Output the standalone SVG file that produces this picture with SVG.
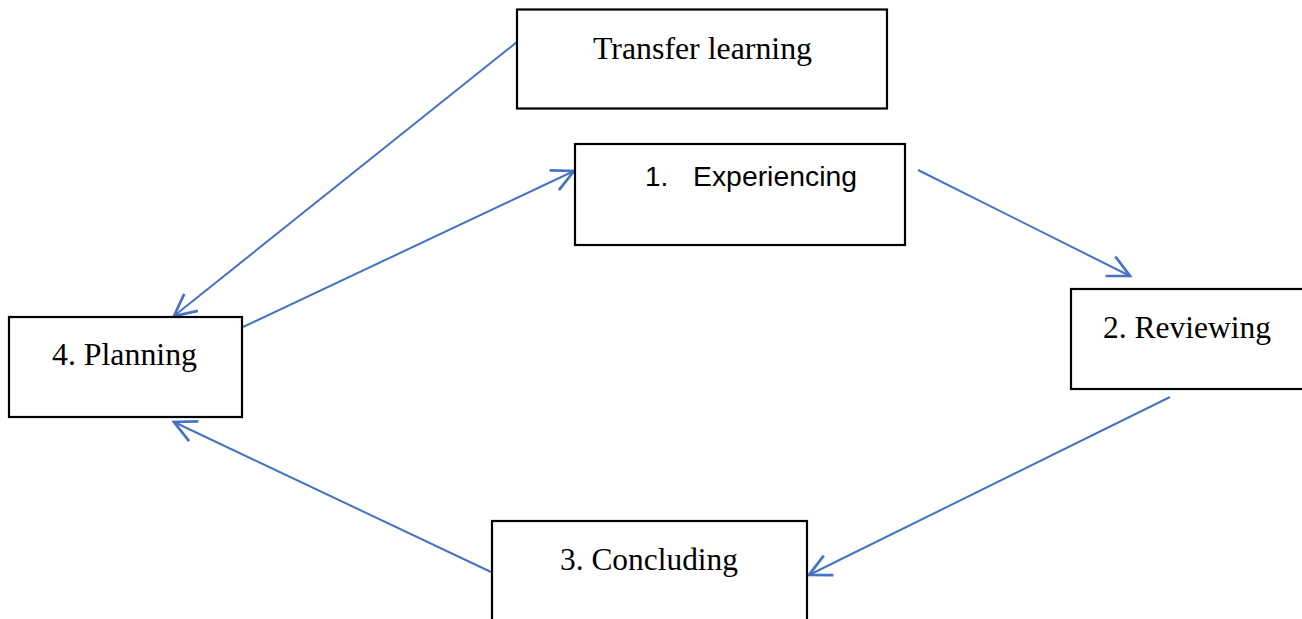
<svg xmlns="http://www.w3.org/2000/svg" width="1302" height="619" viewBox="0 0 1302 619">
<style>
.box{fill:#fff;stroke:#000;stroke-width:2.2}
.t{font-family:"Liberation Serif","Times New Roman",serif;font-size:32px;fill:#000}
.s{font-family:"Liberation Sans",Arial,sans-serif;font-size:28px;fill:#000}
.c{fill:none;stroke:#4472C4;stroke-width:2;marker-end:url(#a)}
</style>
<defs>
<marker id="a" markerUnits="userSpaceOnUse" markerWidth="30" markerHeight="30" viewBox="-20 -10 22 20" refX="0" refY="0" orient="auto">
<path d="M-16,-8 L0,0 L-16,8" fill="none" stroke="#4472C4" stroke-width="2"/>
</marker>
</defs>
<g id="connectors">
<line class="c" x1="517" y1="42" x2="174" y2="316"/>
<line class="c" x1="243" y1="327" x2="574" y2="171"/>
<line class="c" x1="918" y1="170" x2="1130" y2="276"/>
<line class="c" x1="1170" y1="397" x2="809" y2="575"/>
<line class="c" x1="491" y1="572" x2="174" y2="422"/>
</g>
<g id="transfer">
<rect class="box" x="517" y="9.5" width="370" height="99"/>
<text class="t" x="593" y="59" textLength="219" lengthAdjust="spacingAndGlyphs">Transfer learning</text>
</g>
<g id="experiencing">
<rect class="box" x="575" y="144" width="330" height="101"/>
<text class="s" x="645" y="186">1.</text>
<text class="s" x="693" y="186" textLength="164" lengthAdjust="spacingAndGlyphs">Experiencing</text>
</g>
<g id="reviewing">
<rect class="box" x="1071" y="289" width="240" height="100"/>
<text class="t" x="1103" y="338" textLength="168" lengthAdjust="spacingAndGlyphs">2. Reviewing</text>
</g>
<g id="concluding">
<rect class="box" x="492" y="521" width="315" height="110"/>
<text class="t" x="560" y="570" textLength="178" lengthAdjust="spacingAndGlyphs">3. Concluding</text>
</g>
<g id="planning">
<rect class="box" x="9" y="317" width="233" height="100"/>
<text class="t" x="52" y="365" textLength="145" lengthAdjust="spacingAndGlyphs">4. Planning</text>
</g>
</svg>
